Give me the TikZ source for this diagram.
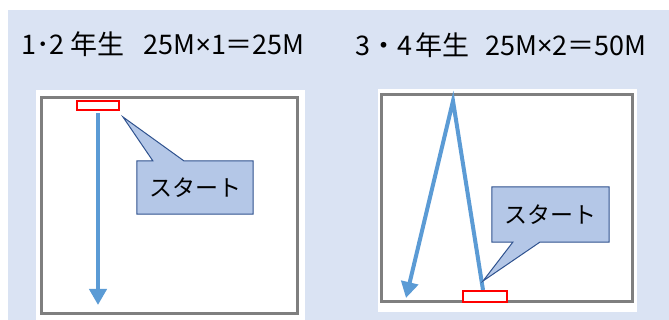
\documentclass[tikz,border=0pt]{standalone}
\usepackage{fontspec}
\setmainfont{Noto Sans CJK JP}
\newfontfamily\latinfont{Noto Sans}
\usetikzlibrary{arrows.meta,calc}
\definecolor{bgblue}{HTML}{DAE3F3}
\definecolor{framegray}{HTML}{7F7F7F}
\definecolor{arrowblue}{HTML}{5B9BD5}
\definecolor{callfill}{HTML}{B4C7E7}
\definecolor{calldraw}{HTML}{2F528F}
\definecolor{startred}{HTML}{FF0000}
\newcommand{\tms}{{\latinfont ×}}
\tikzset{
  panel/.style={draw=framegray,line width=3pt,fill=white},
  startbar/.style={draw=startred,line width=2.4pt,fill=white},
  runline/.style={draw=arrowblue,line width=4pt,line join=miter,miter limit=20,
    -{Triangle[width=17pt,length=16pt]}},
  callout/.style={fill=callfill,draw=calldraw,line width=1pt,line join=miter},
  calltext/.style={font=\fontsize{23pt}{25pt}\selectfont,inner sep=0pt},
  title/.style={font=\fontsize{27pt}{30pt}\selectfont,anchor=west,inner sep=0pt}
}
\begin{document}
\begin{tikzpicture}[x=1pt,y=-1pt]
\useasboundingbox (0,0) rectangle (669,320);
\fill[bgblue] (8,10) rectangle (669,320);
% titles
\node[title] (t1) at (21,44) {1･2\hspace{6pt}年生\hspace{19pt}25M\tms1＝25M};
\node[title] (t2) at (355,45) {3・4\hspace{3pt}年生\hspace{16pt}25M\tms2＝50M};
% left panel
\fill[white] (36,90) rectangle (305,320);
\draw[panel] (41.5,97.5) rectangle (297.5,313);
\node[startbar,minimum width=42pt,minimum height=9pt,inner sep=0pt] (s1) at (98,105.5) {};
\coordinate (e1) at (98,305);
\draw[runline] (s1.south) ++(0,2) coordinate (b1) -- (e1);
\coordinate (tip1) at (123,117);
\node[calltext,minimum width=116pt,minimum height=53pt] (c1) at (195,187.5) {};
\draw[callout] (c1.north west) -- ($(c1.north west)+(16,0)$) -- (tip1) -- ($(c1.north west)+(47,0)$)
  -- (c1.north east) -- (c1.south east) -- (c1.south west) -- cycle;
\node[calltext] at (c1.center) {スタート};
% right panel
\fill[white] (378,89) rectangle (637,312);
\draw[panel] (381.5,94.5) rectangle (632,301.5);
\coordinate (p2) at (453,101);
\coordinate (e2) at (406,298);
\draw[runline] (483,290) coordinate (b2) -- (p2) -- (e2);
\node[startbar,minimum width=44pt,minimum height=11pt,inner sep=0pt] (s2) at (485,296.5) {};
\coordinate (tip2) at (483,281);
\node[calltext,minimum width=117pt,minimum height=55pt] (c2) at (550.5,214.5) {};
\draw[callout] (c2.north west) -- (c2.north east) -- (c2.south east)
  -- ($(c2.south west)+(48,0)$) -- (tip2) -- ($(c2.south west)+(21,0)$) -- (c2.south west) -- cycle;
\node[calltext] at (c2.center) {スタート};
\end{tikzpicture}
\end{document}
